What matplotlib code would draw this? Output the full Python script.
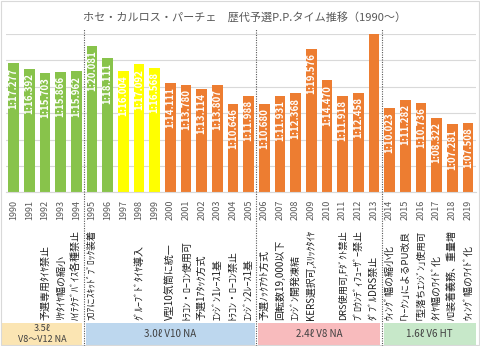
import matplotlib
matplotlib.use("Agg")
import numpy as np
import matplotlib.pyplot as plt
from matplotlib import transforms
from matplotlib.patches import Rectangle
from matplotlib.lines import Line2D

plt.rcParams["font.family"] = ["Noto Sans CJK JP", "DejaVu Sans"]

# ---- data ----
years = list(range(1990, 2020))
# 予選P.P.タイム（秒）
pole_sec = [77.277, 76.392, 75.703, 75.866, 75.962,
            80.081, 78.111, 76.004, 77.092, 76.568,
            74.111, 73.780, 73.114, 73.807, 70.646,
            71.988, 70.680, 71.931, 72.368, 79.576,
            74.470, 71.918, 72.458, 86.479, 70.023,
            71.282, 70.736, 68.322, 67.281, 67.508]
rules = ["", "", "予選専用ﾀｲﾔ禁止", "ﾘﾔﾀｲﾔ幅の縮小", "ﾊｲﾃｸﾃﾞﾊﾞｲｽ各種禁止",
         "ﾌﾛｱにｽｷｯﾄﾞﾌﾞﾛｯｸ装着", "", "", "ｸﾞﾙｰﾌﾞﾄﾞﾀｲﾔ導入", "",
         "V型10気筒に統一", "ﾄﾗｺﾝ・ﾛｰｺﾝ使用可", "予選1ｱﾀｯｸ方式", "ｴﾝｼﾞﾝ1ﾚｰｽ1基", "ﾄﾗｺﾝ・ﾛｰｺﾝ禁止",
         "ｴﾝｼﾞﾝ2ﾚｰｽ1基", "予選ﾉｯｸｱｳﾄ方式", "回転数19,000以下", "ｴﾝｼﾞﾝ開発凍結", "KERS選択可,ｽﾘｯｸﾀｲﾔ",
         "", "DRS使用可,Fﾀﾞｸﾄ禁止", "ﾌﾞﾛｳﾝﾃﾞｨﾌｭｰｻﾞｰ禁止", "ﾀﾞﾌﾞﾙDRS禁止", "ｳｨﾝｸﾞ幅の縮小化",
         "｢ﾄｰｸﾝ｣によるPU改良", "｢型落ちｴﾝｼﾞﾝ｣使用可", "ﾀｲﾔ幅のﾜｲﾄﾞ化", "ﾊﾛ装着義務、重量増", "ｳｨﾝｸﾞ幅のﾜｲﾄﾞ化"]
era_names = ["3.5ℓ\nV8～V12 NA", "3.0ℓ V10 NA", "2.4ℓ V8 NA", "1.6ℓ V6 HT"]
era_first = [1990, 1995, 2006, 2014]
era_last = [1994, 2005, 2013, 2019]

title = "ホセ・カルロス・パーチェ　歴代予選P.P.タイム推移（1990～）"

# ---- style ----
era_colors = ["#FBE5B3", "#BDD7EE", "#F8BBBD", "#C7E8C9"]
Y_MIN, Y_MAX, Y_STEP = 56.16, 82.08, 4.32
RULE_MAX_PX = 90


def bar_color(y):
    if y <= 1996:
        return "#88C34B"
    if y <= 1999:
        return "#FFFF00"
    return "#ED7D31"


def fmt_time(v):
    m = int(v // 60)
    return f"{m}:{v - 60 * m:06.3f}"


fig = plt.figure(figsize=(4.8, 3.46), dpi=100)
ax = fig.add_axes([0.0121, 0.4442, 0.979, 0.4575])

x = np.arange(len(years))
ax.bar(x, pole_sec, width=0.68, color=[bar_color(y) for y in years], zorder=2)
ax.set_xlim(-0.5, len(years) - 0.5)
ax.set_ylim(Y_MIN, Y_MAX)
ax.set_yticks(np.arange(Y_MIN, Y_MAX + 0.01, Y_STEP))
ax.yaxis.grid(True, color="#D9D9D9", lw=0.8, zorder=0)
ax.tick_params(axis="y", left=False, labelleft=False)
for s in ["top", "left", "right"]:
    ax.spines[s].set_visible(False)
ax.spines["bottom"].set_color("#D9D9D9")
ax.set_xticks(x)
ax.set_xticklabels([str(y) for y in years], rotation=90, fontsize=6.5, color="#595959")
ax.tick_params(axis="x", length=0, pad=5.5)

for xi, v in zip(x, pole_sec):
    if v > Y_MAX:
        continue
    ax.annotate(fmt_time(v), (xi, v), xytext=(0, -3), textcoords="offset points",
                rotation=90, ha="center", va="top", color="white",
                fontsize=7, fontweight="bold", zorder=3)

fig.text(0.51, 0.951, title, ha="center", va="center", fontsize=8, color="#595959")

bt = transforms.blended_transform_factory(ax.transData, fig.transFigure)

# rule changes (長すぎるものは縮小して年ラベルに重ならないように)
renderer = fig.canvas.get_renderer()
for xi, r in zip(x, rules):
    if r:
        t = fig.text(xi, 0.0751, r, transform=bt, rotation=90, ha="center", va="bottom",
                     fontsize=7.2, color="#1F1F1F")
        h = t.get_window_extent(renderer).height
        if h > RULE_MAX_PX:
            t.set_fontsize(7.2 * RULE_MAX_PX / h)

# era bands
for name, a, b, c in zip(era_names, era_first, era_last, era_colors):
    i0 = years.index(a) - 0.5
    i1 = years.index(b) + 0.5
    l = i0 + 0.12 if a != years[0] else i0 - 0.25
    r = i1 - 0.12 if b != years[-1] else i1
    fig.add_artist(Rectangle((l, 0.003), r - l, 0.0635, transform=bt,
                             facecolor=c, edgecolor="none"))
    fig.text((l + r) / 2, 0.0348, name, transform=bt, ha="center", va="center",
             fontsize=6.5 if "\n" in name else 7, color="#404040", linespacing=1.25)

# era dividers
for a in era_first[1:]:
    xd = years.index(a) - 0.5
    fig.add_artist(Line2D([xd, xd], [0.0, 0.915], transform=bt, color="#595959",
                          lw=0.8, dashes=(1, 1.2)))

fig.add_artist(Rectangle((0.002, 0.002), 0.996, 0.996, transform=fig.transFigure,
                         facecolor="none", edgecolor="#D9D9D9", lw=0.8))

fig.savefig("out.png", dpi=100)
